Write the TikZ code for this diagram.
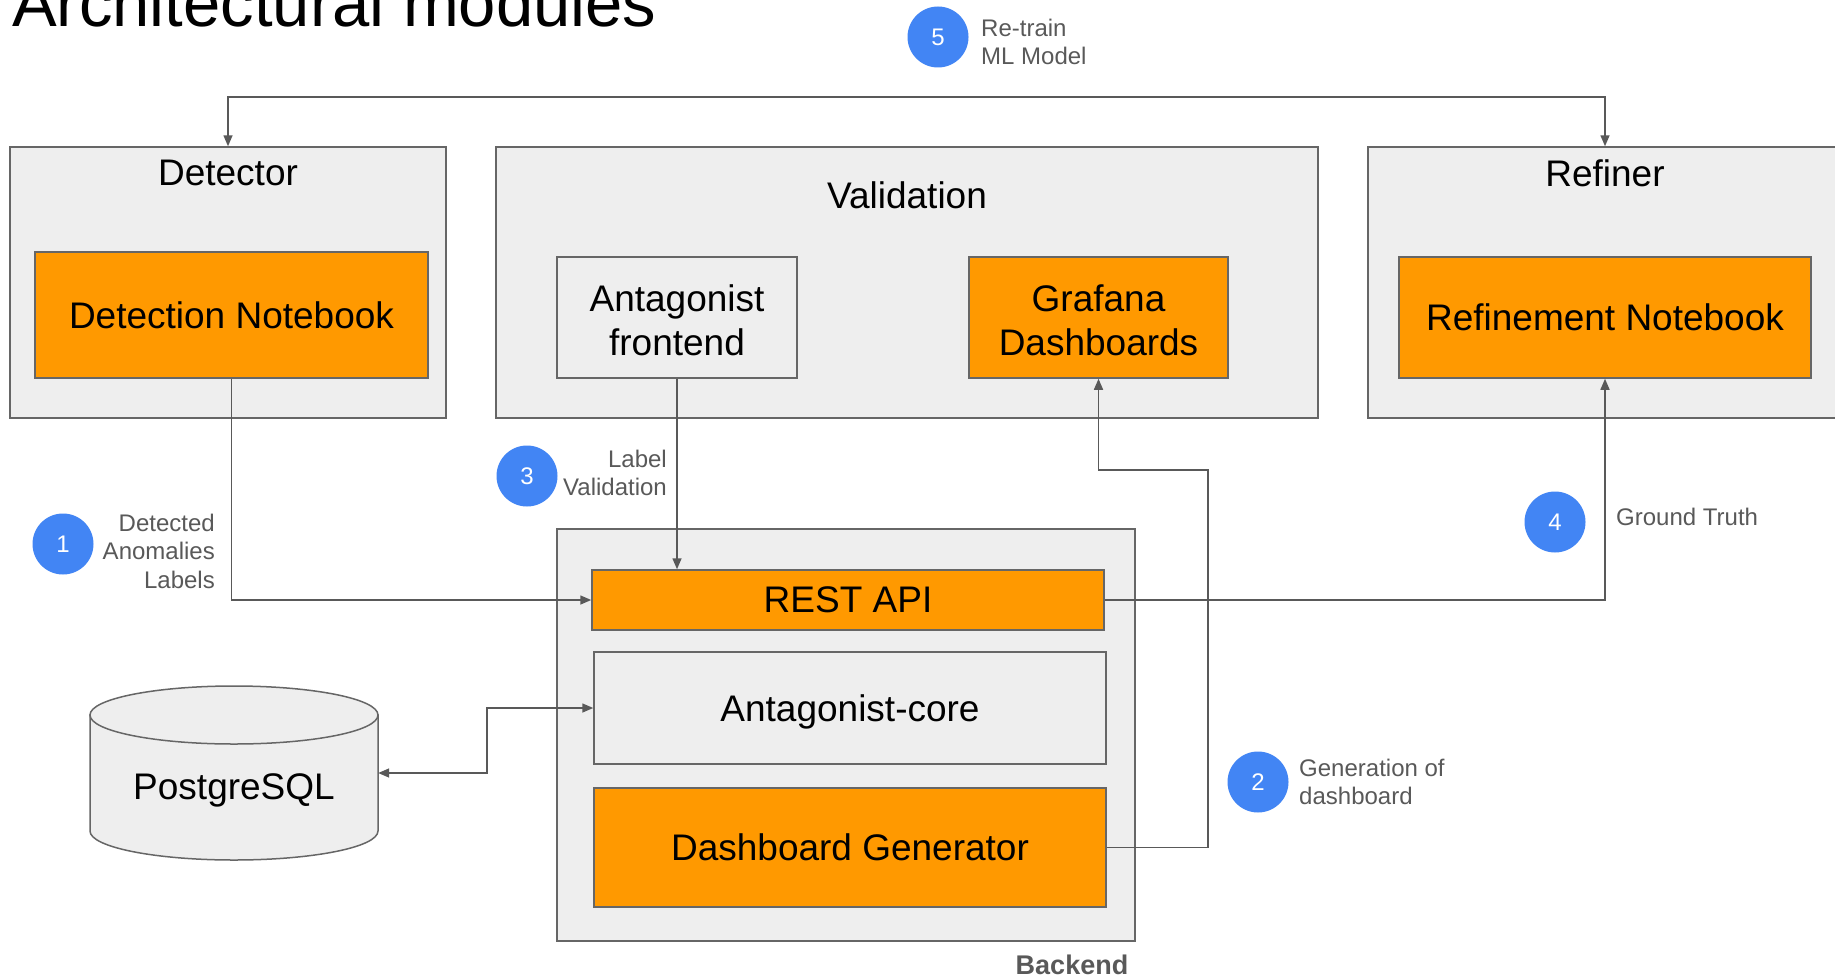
\documentclass[tikz,border=0pt]{standalone}
\usepackage{fontspec}
\setmainfont{Liberation Sans}
\usetikzlibrary{arrows.meta,calc}
\definecolor{boxgray}{HTML}{EEEEEE}
\definecolor{bordergray}{HTML}{666666}
\definecolor{orng}{HTML}{FF9900}
\definecolor{gblue}{HTML}{4285F4}
\definecolor{txtgray}{HTML}{595959}
\begin{document}
\begin{tikzpicture}[x=1pt,y=-1pt,
 container/.style={draw=bordergray, fill=boxgray, line width=1.5pt, inner sep=0pt},
 orangebox/.style={draw=bordergray, fill=orng, line width=1.5pt, inner sep=0pt, font=\fontsize{37}{44}\selectfont, align=center},
 graybox/.style={draw=bordergray, fill=boxgray, line width=1.5pt, inner sep=0pt, font=\fontsize{37}{44}\selectfont, align=center},
 ttl/.style={font=\fontsize{37}{44}\selectfont, inner sep=0pt},
 badge/.style={circle, fill=gblue, text=white, minimum size=61pt, inner sep=0pt, font=\fontsize{24}{28}\selectfont},
 note/.style={text=txtgray, font=\fontsize{24}{28.5}\selectfont, inner sep=0pt},
 conn/.style={draw=txtgray, line width=1.5pt, -{Triangle[length=11pt,width=9pt]}},
 conn2/.style={draw=txtgray, line width=1.5pt, {Triangle[length=11pt,width=9pt]}-{Triangle[length=11pt,width=9pt]}},
]
\clip (0,0) rectangle (1835,979);
\fill[white] (0,0) rectangle (1835,979);

% title
\node[anchor=base west, font=\fontsize{67}{80}\selectfont, inner sep=0pt] (title) at (12,27) {Architectural modules};

% containers
\node[container, minimum width=436pt, minimum height=271pt] (detector) at (228,282.5) {};
\node[ttl] (detT) at (228,173) {Detector};
\node[orangebox, minimum width=393pt, minimum height=126pt] (detnb) at (231.5,315) {Detection Notebook};

\node[container, minimum width=822pt, minimum height=271pt] (valid) at (907,282.5) {};
\node[ttl] (valT) at (907,195) {Validation};
\node[graybox, minimum width=240pt, minimum height=121pt] (front) at (677,317.5) {};
\node[ttl, align=center] (frontT) at (677,320.5) {Antagonist\\frontend};
\node[orangebox, minimum width=259pt, minimum height=121pt] (grafana) at (1098.5,317.5) {};
\node[ttl, align=center] (grafT) at (1098.5,320.5) {Grafana\\Dashboards};

\node[container, minimum width=474pt, minimum height=271pt] (refiner) at (1605,282.5) {};
\node[ttl] (refT) at (1605,173) {Refiner};
\node[orangebox, minimum width=412pt, minimum height=121pt] (refnb) at (1605,317.5) {Refinement Notebook};

\node[container, minimum width=578pt, minimum height=412pt] (backend) at (846,735) {};
\node[orangebox, minimum width=512pt, minimum height=60pt] (rest) at (848,600) {REST API};
\node[graybox, minimum width=512pt, minimum height=112pt, text depth=0pt] (core) at (850,708) {Antagonist-core};
\node[orangebox, minimum width=512pt, minimum height=119pt] (dashgen) at (850,847.5) {Dashboard Generator};
\node[font=\bfseries\fontsize{27}{32}\selectfont, text=txtgray, inner sep=0pt] (backT) at (1072,965) {Backend};

% cylinder
\path[draw=bordergray, fill=boxgray, line width=1.5pt] (90,715) -- (90,831) arc[start angle=180, end angle=0, x radius=144, y radius=29] -- (378,715) -- cycle;
\path[draw=bordergray, fill=boxgray, line width=1.5pt] (234,715) ellipse[x radius=144, y radius=29];
\node[minimum width=288pt, minimum height=174pt, inner sep=0pt] (pg) at (234,773) {};
\node[ttl] (pgT) at (234,790) {PostgreSQL};

% badges and notes
\node[badge] (b1) at (63,544) {1};
\node[note, align=right, anchor=east] (n1) at (215,551) {Detected\\Anomalies\\Labels};
\node[badge] (b3) at (527,476) {3};
\node[note, align=right, anchor=east] (n3) at (667,473) {Label\\Validation};
\node[badge] (b4) at (1555,522) {4};
\node[note, align=left, anchor=west] (n4) at (1616,517) {Ground Truth};
\node[badge] (b2) at (1258,782) {2};
\node[note, align=left, anchor=west] (n2) at (1299,782) {Generation of\\dashboard};
\node[badge] (b5) at (938,37) {5};
\node[note, align=left, anchor=west] (n5) at (981,42) {Re-train\\ML Model};

% connectors
\coordinate (rr) at (1605,97);
\draw[conn2] (detector.north) |- (rr) -- (refiner.north);
\draw[conn] (detnb.south) |- (rest.west);
\draw[conn] (front.south) -- (front.south |- rest.north);
\draw[conn] (rest.east) -| (refnb.south);
\coordinate (c1) at (1208,470);
\draw[conn] (dashgen.east) -| (c1) -| (grafana.south);
\coordinate (c2) at (487,740);
\draw[conn2] (pg.east) -| (c2) |- (core.west);
\end{tikzpicture}
\end{document}
